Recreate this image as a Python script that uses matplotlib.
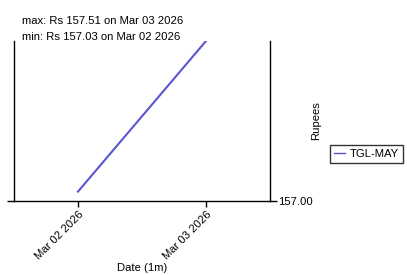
import matplotlib
matplotlib.use('Agg')
import matplotlib.pyplot as plt
import matplotlib.dates as mdates
import numpy as np
from datetime import datetime, timedelta

plt.rcParams['font.family'] = ['Liberation Sans', 'DejaVu Sans']
plt.rcParams['font.size'] = 8.1

dates = [datetime(2026, 3, 2), datetime(2026, 3, 3)]
prices = [157.03, 157.51]
series_name = 'TGL-MAY'
y_ticks = [157.00]

fig = plt.figure(figsize=(4.07, 2.75), dpi=100)
ax = fig.add_axes([14 / 407, 1 - 201 / 275, 256 / 407, 160 / 275])

ax.plot(dates, prices, color='#5b55d0', linewidth=1.5, label=series_name)

ax.set_xlim(dates[0] - timedelta(hours=12), dates[-1] + timedelta(hours=12))
ax.set_ylim(157.00, max(prices))
ax.xaxis.set_major_locator(mdates.DayLocator())
ax.xaxis.set_major_formatter(mdates.DateFormatter('%b %d %Y'))
plt.setp(ax.get_xticklabels(), rotation=45, ha='right', rotation_mode='anchor')

ax.yaxis.tick_right()
ax.yaxis.set_label_position('right')
ax.set_yticks(y_ticks)
ax.set_yticklabels([f'{v:.2f}' for v in y_ticks])
ax.tick_params(axis='y', which='both', left=True, right=True, length=5, width=1, pad=1)
ax.tick_params(axis='x', length=4, width=1, pad=2)

ax.spines['top'].set_visible(False)
for s in ['left', 'right', 'bottom']:
    ax.spines[s].set_linewidth(1)

ax.set_xlabel('Date (1m)', labelpad=1)
ax.set_ylabel('Rupees', labelpad=-1.5)

fig.text(22 / 407, 1 - 21 / 275, 'max: Rs %.2f on %s' % (max(prices), dates[int(np.argmax(prices))].strftime('%b %d %Y')),
         va='center', ha='left')
fig.text(22 / 407, 1 - 37 / 275, 'min: Rs %.2f on %s' % (min(prices), dates[int(np.argmin(prices))].strftime('%b %d %Y')),
         va='center', ha='left')

leg = fig.legend(loc='center left', bbox_to_anchor=(330 / 407, 1 - 154 / 275), frameon=True,
                 fancybox=False, edgecolor='black', handlelength=1.0, borderpad=0.35,
                 handletextpad=0.4, borderaxespad=0)
leg.get_lines()[0].set_linewidth(1.0)

fig.savefig('out.png', dpi=100)
